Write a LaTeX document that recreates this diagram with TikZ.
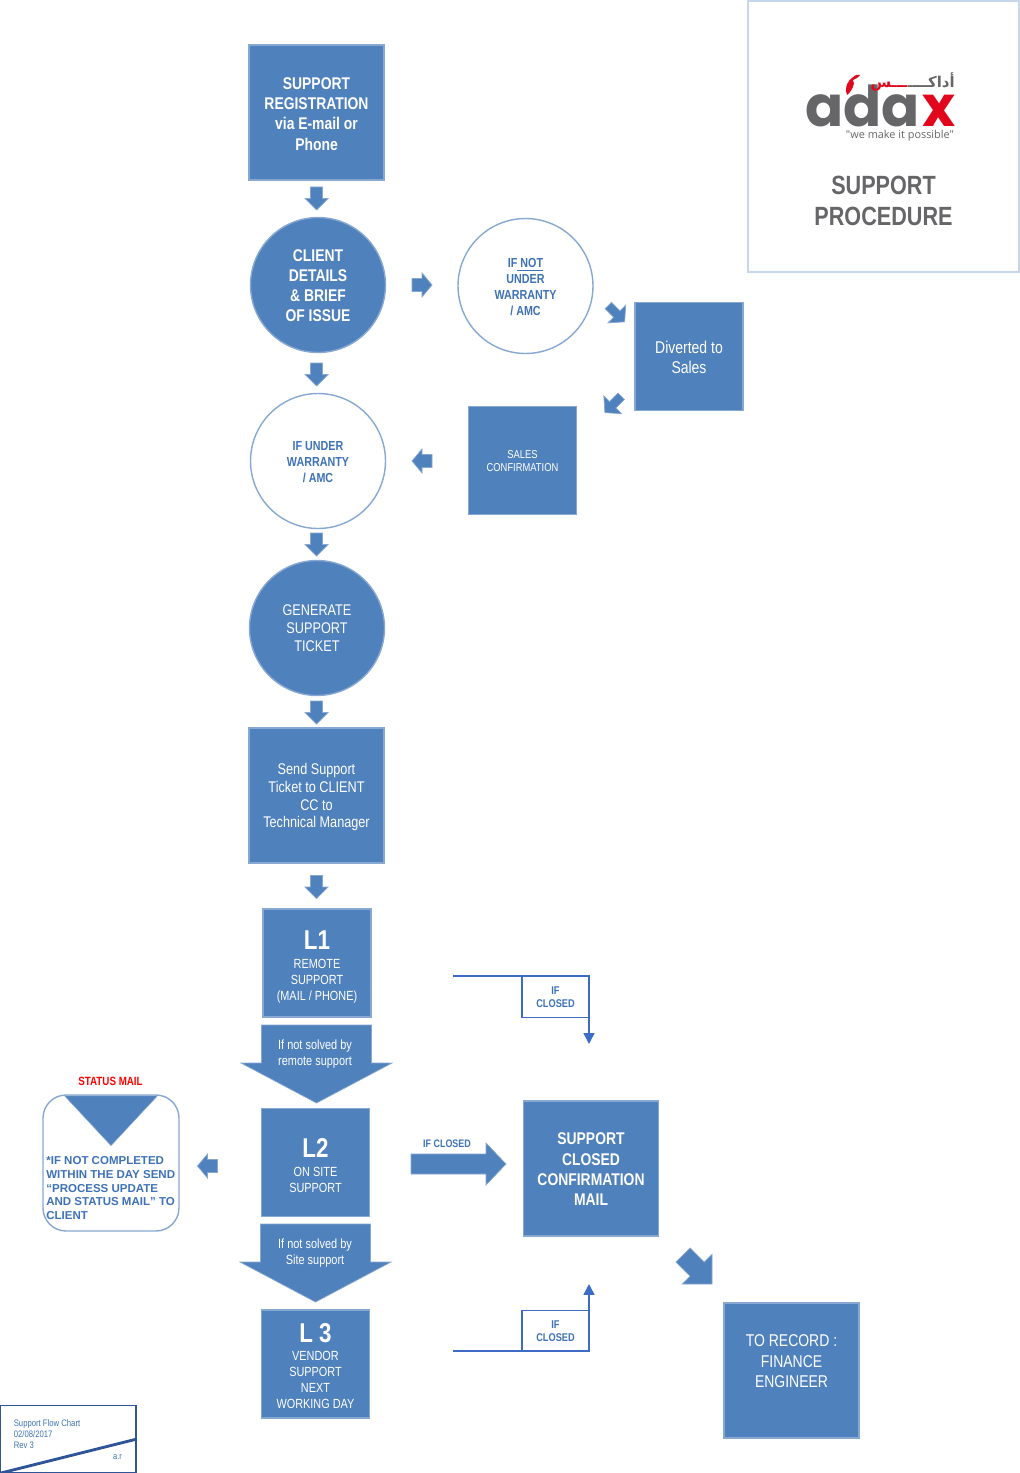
\documentclass[tikz,border=0pt]{standalone}
\usepackage{fontspec}
\setmainfont[FakeStretch=0.82]{Liberation Sans}
\newfontfamily\plainfont{Liberation Sans}
\newfontfamily\logofont{Poppins}
\newfontfamily\tagfont{Open Sans}
\newfontfamily\arabicfont[Script=Arabic]{DejaVu Sans}
\TeXXeTstate=1
\definecolor{flow}{RGB}{79, 129, 189}
\definecolor{flowedge}{RGB}{135, 168, 210}
\definecolor{inktext}{RGB}{62, 114, 184}
\definecolor{bentblue}{RGB}{60, 108, 196}
\definecolor{titleedge}{RGB}{198, 214, 236}
\definecolor{footedge}{RGB}{47, 85, 151}
\definecolor{logogray}{RGB}{102, 102, 104}
\definecolor{logored}{RGB}{226, 6, 28}
\usetikzlibrary{arrows.meta, shapes.geometric, positioning}
\tikzset{
    pics/flowarrow/.style n args={4}{code={
        \filldraw[fill=flow, draw=flowedge, line width=0.4pt]
            (-#1/2,-#3/2) -- (#1/2-#2,-#3/2) -- (#1/2-#2,-#4/2) -- (#1/2,0)
            -- (#1/2-#2,#4/2) -- (#1/2-#2,#3/2) -- (-#1/2,#3/2) -- cycle;
    }}
}

\begin{document}
\begin{tikzpicture}[
        x=0.02cm, y=-0.02cm,
        every node/.style={align=center, inner sep=0pt},
        lowered/.style={text height=#1, text depth=0pt},
        block/.style={rectangle, fill=flow, draw=flowedge, line width=0.8pt, text=white, minimum size=2.7cm},
        smallblock/.style={block, minimum size=2.16cm},
        disc/.style={circle, fill=flow, draw=flowedge, line width=0.8pt, text=white, minimum size=2.7cm},
        ringdisc/.style={circle, fill=white, draw=flowedge, line width=0.8pt, text=inktext, minimum size=2.7cm,
            font=\fontsize{7.45}{9.05}\selectfont\bfseries},
        headfont/.style={font=\fontsize{9.65}{11.55}\selectfont\bfseries},
        bodyfont/.style={font=\fontsize{8.8}{10.2}\selectfont},
        levelfont/.style={font=\fontsize{7.55}{9.1}\selectfont},
        droptext/.style={text=white, font=\fontsize{7.6}{9.1}\selectfont},
        closedbox/.style={rectangle, draw=bentblue, line width=0.6pt, fill=white, text=inktext, minimum width=1.34cm, minimum height=0.82cm,
            font=\fontsize{6.4}{7.6}\selectfont\bfseries},
        bentline/.style={draw=bentblue, line width=0.85pt, -{Triangle[length=6.2pt, width=6.2pt]}}
    ]
        \useasboundingbox (0,0) rectangle (1020,1473);

        \node[rectangle, draw=titleedge, line width=0.8pt, minimum size=5.42cm] (title) at (883.5,136.5) {};
        \node[text=logogray, text depth=0pt, font=\logofont\fontsize{32}{32}\selectfont\bfseries, anchor=base west] (logoada) at (805,127) {ada};
        \node[text=logored, text depth=0pt, font=\logofont\fontsize{32}{32}\selectfont\bfseries, anchor=base west] (logox) at (922,127) {x};
        \fill[logored] (847,95) .. controls (844,86) and (849,80) .. (852,78) .. controls (855,75) and (858,74) .. (860,75)
            .. controls (858,78) and (855,79) .. (853,80) .. controls (856,84) and (851,92) .. (847,95) -- cycle;
        \node[font=\arabicfont\fontsize{8.5}{9}\selectfont\bfseries, text=logogray, anchor=base east] (logoarabic) at (955,88)
            {\beginR أداكــــ\endR};
        \node[font=\arabicfont\fontsize{8.5}{9}\selectfont\bfseries, text=logored, anchor=base east] (logoarabicred) at (logoarabic.base west)
            {\beginR ـــس\endR};
        \node[font=\tagfont\fontsize{6.2}{6.2}\selectfont, text=logogray] (logotag) at (900,136) {"we make it possible"};
        \node[text=logogray, font=\fontsize{15}{17.6}\selectfont\bfseries] (titletext) at (883.5,201) {SUPPORT\\PROCEDURE};

        \node[block, headfont, lowered=42.9pt] (registration) at (316.5,112.5) {SUPPORT\\REGISTRATION\\via E-mail or\\Phone};
        \node[disc, headfont, lowered=42pt] (client) at (318,285) {CLIENT\\DETAILS\\\& BRIEF\\OF ISSUE};
        \node[ringdisc, lowered=33.3pt] (notunder) at (525.5,286) {IF\underline{ NOT}\\UNDER\\WARRANTY\\/ AMC};
        \node[smallblock, lowered=19.7pt, font=\fontsize{9.7}{11.6}\selectfont] (diverted) at (689,356.5) {Diverted to\\Sales};
        \node[smallblock, lowered=13pt, font=\fontsize{6.5}{7.6}\selectfont] (salesconf) at (522.5,460.5) {SALES\\CONFIRMATION};
        \node[ringdisc, lowered=24pt] (under) at (318,461) {IF UNDER\\WARRANTY\\/ AMC};
        \node[disc, bodyfont] (ticket) at (317,628) {GENERATE\\SUPPORT\\TICKET};
        \node[block, bodyfont, text depth=0pt] (send) at (316.5,795.5) {Send Support\\Ticket to CLIENT\\CC to\\Technical Manager};

        \node[smallblock, levelfont, lowered=42.4pt] (lone) at (317,963) {{\fontsize{15.5}{15.5}\selectfont\bfseries L1}\\[1.6pt]REMOTE\\SUPPORT\\(MAIL / PHONE)};
        \pic[rotate=-90] (dropone) at (316.5,1064) {flowarrow={78}{40}{110}{151}};
        \node[droptext] (droponetext) at (315,1054.5) {If not solved by\\remote support};
        \node[smallblock, levelfont, lowered=34.3pt] (ltwo) at (315.5,1162.5) {{\fontsize{15.5}{15.5}\selectfont\bfseries L2}\\[1.6pt]ON SITE\\SUPPORT};
        \pic[rotate=-90] (droptwo) at (315.5,1263) {flowarrow={78}{40}{110}{151}};
        \node[droptext] (droptwotext) at (315,1253.5) {If not solved by\\Site support};
        \node[smallblock, levelfont, lowered=51pt] (lthree) at (315.5,1364) {{\fontsize{15.5}{15.5}\selectfont\bfseries L 3}\\[1.6pt]VENDOR\\SUPPORT\\NEXT\\WORKING DAY};

        \node[block, headfont, lowered=42.5pt] (closed) at (591,1168.5) {SUPPORT\\CLOSED\\CONFIRMATION\\MAIL};
        \node[block, lowered=42.5pt, font=\fontsize{9.7}{11.6}\selectfont] (record) at (791.5,1370.5) {TO RECORD :\\FINANCE\\ENGINEER\\\mbox{}};

        \node[rectangle, rounded corners=0.46cm, fill=white, draw=flowedge, line width=0.8pt, minimum size=2.72cm] (statusbox) at (111,1163) {};
        \node[isosceles triangle, isosceles triangle apex angle=86, shape border rotate=-90, fill=flow, draw=flowedge, line width=0.3pt,
            minimum width=1.86cm, anchor=apex] (statustri) at (111,1146) {};
        \node[anchor=north west, align=left, text=inktext, font=\plainfont\fontsize{6.55}{7.75}\selectfont\bfseries] (statustext) at (46,1156.5)
            {*IF NOT COMPLETED\\WITHIN THE DAY SEND\\“PROCESS UPDATE\\AND STATUS MAIL” TO\\CLIENT};
        \node[text=red, font=\fontsize{6.8}{7}\selectfont\bfseries] (statuslabel) at (110.5,1081) {STATUS MAIL};

        \pic[rotate=-90] (arrowa) at (316.5,198.5) {flowarrow={23}{11.5}{12}{23}};
        \pic[rotate=-90] (arrowb) at (316.5,374.5) {flowarrow={23}{11.5}{12}{23}};
        \pic[rotate=-90] (arrowc) at (316.5,544.5) {flowarrow={23}{11.5}{12}{23}};
        \pic[rotate=-90] (arrowd) at (316.5,712.5) {flowarrow={23}{11.5}{12}{23}};
        \pic[rotate=-90] (arrowe) at (316.5,887) {flowarrow={23}{11.5}{12}{23}};
        \pic (arrowf) at (422,285) {flowarrow={20}{10}{13}{24}};
        \pic[rotate=180] (arrowg) at (422,461) {flowarrow={20}{10}{13}{24}};
        \pic[rotate=180] (arrowh) at (207.5,1166) {flowarrow={20}{10}{13}{24}};
        \pic[rotate=-45] (arrowi) at (616.5,313.7) {flowarrow={23}{11}{9}{25}};
        \pic[rotate=-135] (arrowj) at (613,404.5) {flowarrow={23}{11}{9}{25}};
        \pic (arrowk) at (458.5,1164) {flowarrow={95}{20}{20}{42}};
        \pic[rotate=-45] (arrowl) at (697.5,1269.5) {flowarrow={41}{21}{20}{42}};
        \node[text=inktext, font=\fontsize{6.2}{7}\selectfont\bfseries] (ifclosedmid) at (447,1144) {IF CLOSED};

        \node[closedbox] (closedtop) at (555.5,997) {IF\\CLOSED};
        \node[closedbox] (closedlow) at (555.5,1331) {IF\\CLOSED};
        \coordinate (topstart) at (453,976);
        \coordinate (topend) at (589,1044);
        \coordinate (lowstart) at (453,1351);
        \coordinate (lowend) at (589,1284);
        \draw[bentline] (topstart) -| (topend);
        \draw[bentline] (lowstart) -| (lowend);

        \node[rectangle, draw=footedge, line width=1.1pt, minimum width=2.72cm, minimum height=1.34cm] (footer) at (68,1439) {};
        \node[anchor=north west, align=left, text=inktext, font=\fontsize{5.35}{6.3}\selectfont] (footertext) at (13.5,1419) {Support Flow Chart\\02/08/2017\\Rev 3};
        \node[text=inktext, font=\fontsize{5.2}{6.3}\selectfont] (footerinit) at (117.5,1457) {a.r};
        \draw[footedge, line width=1.6pt] (footer.south west) -- (footer.east |- 0,1439);
    \end{tikzpicture}
\end{document}
